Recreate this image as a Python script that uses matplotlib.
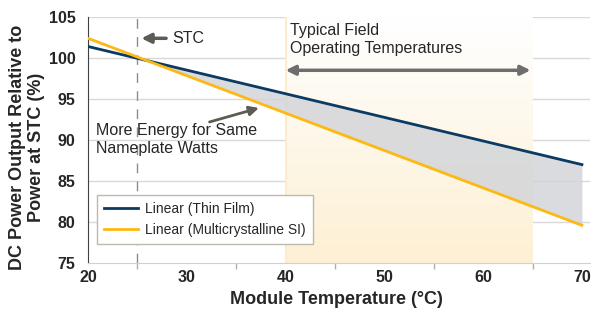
import numpy as np
import matplotlib.pyplot as plt
from matplotlib.patches import FancyArrowPatch
from matplotlib.colors import LinearSegmentedColormap

plt.rcParams['font.family'] = ['Liberation Sans', 'DejaVu Sans']

# dane
temp = [20, 70]
thin_film = [101.4, 87.0]
multi_si = [102.4, 79.6]
stc_temp = 25
field_range = [40, 65]
x_ticks = [20, 30, 40, 50, 60, 70]
y_ticks = [75, 80, 85, 90, 95, 100, 105]

navy = '#0b3a62'
orange = '#fdb813'
arrow_col = '#5c5c55'

fig = plt.figure(figsize=(5.91, 3.14), dpi=100)
ax = fig.add_axes([0.149, 0.1624, 0.849, 0.7835])
ax.set_xlim(20, 70.8)
ax.set_ylim(75, 105)

# siatka
for yy in y_ticks[1:]:
    ax.axhline(yy, color='#d9d9d9', lw=1, zorder=0)

# pasmo temperatur pracy (gradient)
cmap = LinearSegmentedColormap.from_list('band', ['#fdf0d4', '#ffffff'])
grad = np.linspace(0, 1, 100).reshape(-1, 1)
ax.imshow(grad, extent=[field_range[0], field_range[1], 75, 105], origin='lower',
          cmap=cmap, aspect='auto', zorder=0.5)
ax.axvline(field_range[0], color='#fcecca', lw=1.5, zorder=0.6)

# wypelnienie miedzy liniami
xs = np.linspace(temp[0], temp[1], 200)
y1 = np.interp(xs, temp, thin_film)
y2 = np.interp(xs, temp, multi_si)
ax.fill_between(xs, y1, y2, where=y1 >= y2, color='#d1d3d8', alpha=0.8, lw=0, zorder=1)

ax.axvline(stc_temp, color='#8c8c8c', lw=1, dashes=(7, 6), zorder=1.5)

ax.plot(temp, thin_film, color=navy, lw=2, label='Linear (Thin Film)', zorder=3)
ax.plot(temp, multi_si, color=orange, lw=2, label='Linear (Multicrystalline SI)', zorder=3)

# strzalki i opisy
ax.add_patch(FancyArrowPatch((27.9, 102.4), (25.4, 102.4), arrowstyle='-|>',
                             mutation_scale=14, lw=2.5, color=arrow_col, zorder=4,
                             shrinkA=0, shrinkB=0))
ax.text(28.5, 102.4, 'STC', fontsize=11.5, color='#262626', va='center', ha='left')

ax.text(40.4, 104.3, 'Typical Field\nOperating Temperatures', fontsize=11.5,
        color='#262626', va='top', ha='left', linespacing=1.25)
ax.add_patch(FancyArrowPatch((40.0, 98.5), (64.8, 98.5), arrowstyle='<|-|>',
                             mutation_scale=14, lw=2.5, color='#6e6e6e', zorder=4,
                             shrinkA=0, shrinkB=0))

ax.text(20.8, 92.1, 'More Energy for Same\nNameplate Watts', fontsize=11.5,
        color='#262626', va='top', ha='left', linespacing=1.25)
ax.add_patch(FancyArrowPatch((32.3, 92.2), (37.3, 93.9), arrowstyle='-|>',
                             mutation_scale=14, lw=2, color=arrow_col, zorder=4,
                             shrinkA=0, shrinkB=0))

# osie
ax.set_xticks(x_ticks)
ax.set_yticks(y_ticks)
ax.set_xticks([25, 35, 45, 55, 65], minor=True)
ax.tick_params(axis='both', which='major', length=0, labelsize=11.5, labelcolor='#262626')
ax.tick_params(axis='x', which='major', pad=5)
ax.tick_params(axis='y', which='major', pad=9)
ax.tick_params(axis='x', which='minor', length=4, color='#b0b0b0', width=1)
for lab in ax.get_xticklabels() + ax.get_yticklabels():
    lab.set_fontweight('bold')

for s in ['top', 'right']:
    ax.spines[s].set_visible(False)
ax.spines['left'].set_color('#404040')
ax.spines['bottom'].set_color('#d0d0d0')

fig.text(0.569, 0.045, 'Module Temperature (°C)', fontsize=13, fontweight='bold',
         color='#262626', ha='center', va='center')
fig.text(0.045, 0.532, 'DC Power Output Relative to\nPower at STC (%)', fontsize=13,
         fontweight='bold', color='#262626', ha='center', va='center', rotation=90,
         multialignment='center', linespacing=1.15)

leg = ax.legend(loc='upper left', bbox_to_anchor=(0.018, 0.276), borderaxespad=0,
                fontsize=10, fancybox=False, framealpha=1, handlelength=2.45,
                handletextpad=0.5, borderpad=0.5, labelspacing=0.5)
leg.get_frame().set_edgecolor('#bfb8ad')
for t in leg.get_texts():
    t.set_color('#262626')

fig.savefig('out.png', dpi=100)
